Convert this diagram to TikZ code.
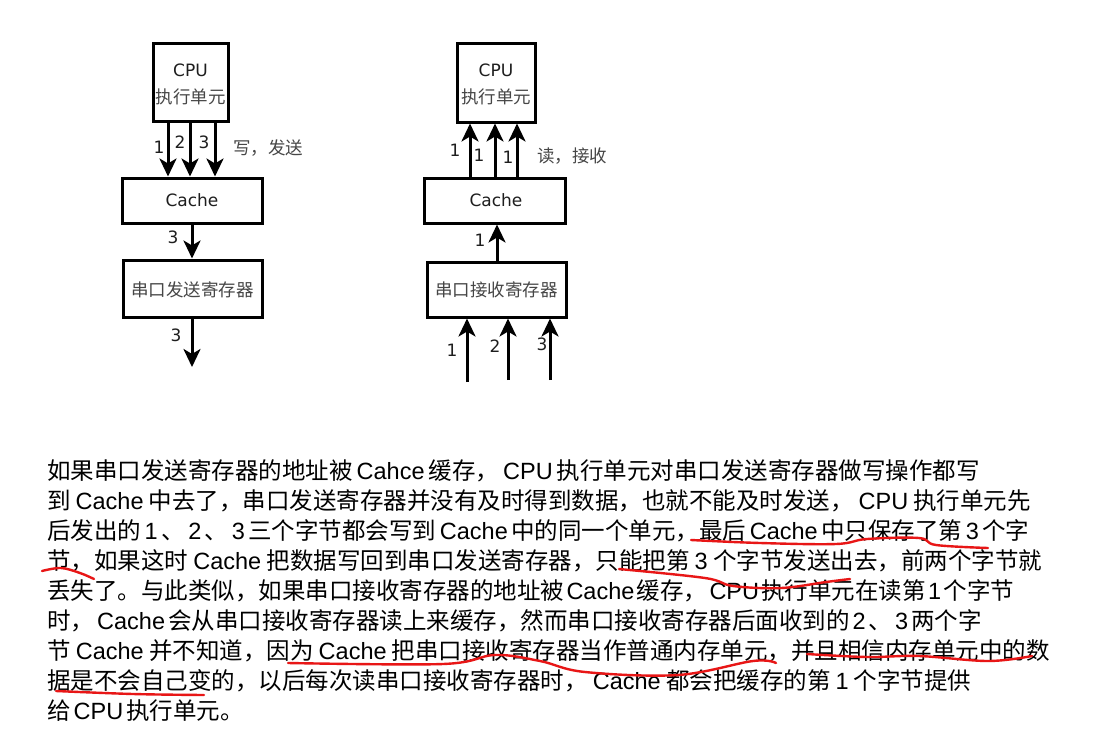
\documentclass[tikz,border=0pt]{standalone}
\usepackage{fontspec}
\setmainfont{Liberation Sans}
\newfontfamily\cjk{Noto Sans CJK SC}
\newfontfamily\dv{DejaVu Sans}
\usetikzlibrary{arrows.meta}
\definecolor{pen}{RGB}{232,22,22}
\definecolor{diagtext}{RGB}{30,30,30}
\definecolor{cjkgray}{RGB}{70,70,70}
\newlength\latgap
\newcommand\lat[1]{\hspace{\latgap}{\rmfamily #1}\hspace{\latgap}}
\newcommand\gap[1]{\setlength\latgap{#1pt}}
\begin{document}
\begin{tikzpicture}[x=1pt,y=-1pt,
  box/.style={draw=black, line width=3pt, inner sep=0pt, fill=white},
  arr/.style={line width=3pt, -{Stealth[length=18pt,width=17pt,inset=5pt]}},
  lbl/.style={font=\dv\fontsize{17}{17}\selectfont, text=diagtext, inner sep=0pt},
  clbl/.style={font=\cjk\fontsize{17.5}{17.5}\selectfont, text=cjkgray, inner sep=0pt},
  para/.style={anchor=base west, inner sep=0pt, font=\cjk\fontsize{23.5}{23.5}\selectfont},
  ink/.style={draw=pen, line width=2.4pt, line cap=round, line join=round}]
\fill[white] (0,0) rectangle (1100,728);
\useasboundingbox (0,0) rectangle (1100,728);

% ---------- left diagram ----------
\node[box, minimum width=75pt, minimum height=78pt] (cpuL) at (190.5,82) {};
\node[lbl] (cpuLt) at (190.5,70) {CPU};
\node[clbl] (cpuLc) at (190.5,97) {执行单元};
\node[box, minimum width=140pt, minimum height=45pt] (cacheL) at (192,200.5) {};
\node[lbl] (cacheLt) at (192,200) {Cache};
\node[box, minimum width=139pt, minimum height=57pt] (sendL) at (192.5,288.5) {};
\node[clbl] (sendLt) at (192.5,290) {串口发送寄存器};
\coordinate (outL) at (192,367);

\draw[arr] (168,0 |- cpuL.south) -- (168,0 |- cacheL.north);
\draw[arr] (190,0 |- cpuL.south) -- (190,0 |- cacheL.north);
\draw[arr] (215,0 |- cpuL.south) -- (215,0 |- cacheL.north);
\draw[arr] (192,0 |- cacheL.south) -- (192,0 |- sendL.north);
\draw[arr] (192,0 |- sendL.south) -- (outL);

\node[lbl] (l1) at (159,147) {1};
\node[lbl] (l2) at (180,142) {2};
\node[lbl] (l3) at (204,142) {3};
\node[clbl] (lw) at (268,148) {写，发送};
\node[lbl] (l4) at (173,237) {3};
\node[lbl] (l5) at (176,335) {3};

% ---------- right diagram ----------
\node[box, minimum width=78pt, minimum height=79pt] (cpuR) at (496,82.5) {};
\node[lbl] (cpuRt) at (496,70) {CPU};
\node[clbl] (cpuRc) at (496,97) {执行单元};
\node[box, minimum width=141pt, minimum height=45pt] (cacheR) at (494.5,200.5) {};
\node[lbl] (cacheRt) at (496,200) {Cache};
\node[box, minimum width=139pt, minimum height=55pt] (recR) at (496.5,289.5) {};
\node[clbl] (recRt) at (496.5,290) {串口接收寄存器};
\coordinate (inA) at (467,382);
\coordinate (inB) at (508,380);
\coordinate (inC) at (550,380);

\draw[arr] (470,0 |- cacheR.north) -- (470,0 |- cpuR.south);
\draw[arr] (495,0 |- cacheR.north) -- (495,0 |- cpuR.south);
\draw[arr] (517,0 |- cacheR.north) -- (517,0 |- cpuR.south);
\draw[arr] (497,0 |- recR.north) -- (497,0 |- cacheR.south);
\draw[arr] (inA) -- (inA |- recR.south);
\draw[arr] (inB) -- (inB |- recR.south);
\draw[arr] (inC) -- (inC |- recR.south);

\node[lbl] (r1) at (455,150) {1};
\node[lbl] (r2) at (479,155) {1};
\node[lbl] (r3) at (508,157) {1};
\node[clbl] (rw) at (572,156) {读，接收};
\node[lbl] (r4) at (480,240) {1};
\node[lbl] (r5) at (452,350) {1};
\node[lbl] (r6) at (495,346) {2};
\node[lbl] (r7) at (542,344) {3};

% ---------- paragraph ----------
\node[para] (p1) at (47,479) {\gap{4}如果串口发送寄存器的地址被\lat{Cahce}缓存，\lat{CPU}执行单元对串口发送寄存器做写操作都写};
\node[para] (p2) at (47,509) {\gap{5}到\lat{Cache}中去了，串口发送寄存器并没有及时得到数据，也就不能及时发送，\lat{CPU}执行单元先};
\node[para] (p3) at (47,539) {\gap{3.5}后发出的\lat{1}、\lat{2}、\lat{3}三个字节都会写到\lat{Cache}中的同一个单元，最后\lat{Cache}中只保存了第\lat{3}个字};
\node[para] (p4) at (47,569) {\gap{5.2}节，如果这时\lat{Cache}把数据写回到串口发送寄存器，只能把第\lat{3}个字节发送出去，前两个字节就};
\node[para] (p5) at (47,599) {\gap{2.3}丢失了。与此类似，如果串口接收寄存器的地址被\lat{Cache}缓存，\lat{CPU}执行单元在读第\lat{1}个字节};
\node[para] (p6) at (47,629) {\gap{3}时，\lat{Cache}会从串口接收寄存器读上来缓存，然而串口接收寄存器后面收到的\lat{2}、\lat{3}两个字};
\node[para] (p7) at (47,659) {\gap{5.2}节\lat{Cache}并不知道，因为\lat{Cache}把串口接收寄存器当作普通内存单元，并且相信内存单元中的数};
\node[para] (p8) at (47,689) {\gap{5.2}据是不会自己变的，以后每次读串口接收寄存器时，\lat{Cache}都会把缓存的第\lat{1}个字节提供};
\node[para] (p9) at (47,719) {\gap{3}给\lat{CPU}执行单元。};

% ---------- red hand-drawn underlines ----------
\draw[ink] plot[smooth, tension=0.6] coordinates {(42,571) (61,568) (80,573) (94,579)};
\draw[ink] plot[smooth, tension=0.6] coordinates {(691,540) (760,543) (836,544) (867,539) (919,538) (936,545) (988,548)};
\draw[ink] plot[smooth, tension=0.6] coordinates {(619,569) (705,578) (733,586) (781,588) (826,582) (850,579)};
\draw[ink] plot[smooth, tension=0.6] coordinates {(288,663) (443,664) (495,655) (540,661) (585,672) (678,675) (753,661) (776,663)};
\draw[ink] plot[smooth, tension=0.6] coordinates {(807,654) (867,657) (919,656) (988,661) (1032,656)};
\draw[ink] plot[smooth, tension=0.6] coordinates {(56,691) (133,694) (204,695)};
\end{tikzpicture}
\end{document}
